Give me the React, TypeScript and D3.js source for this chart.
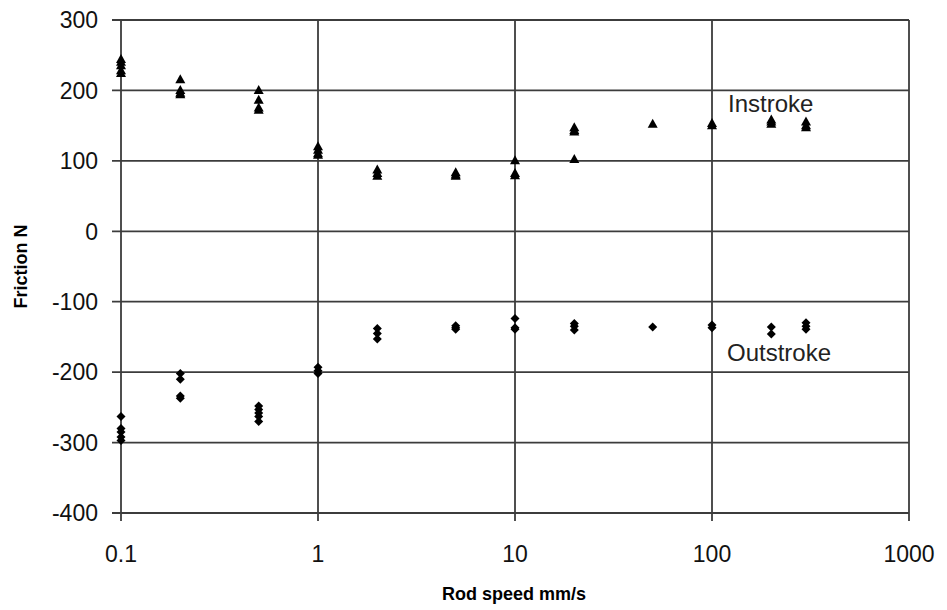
import { useEffect, useRef } from 'react'
import * as d3 from 'd3'

// rod speeds (mm/s) measured
const speeds = [0.1, 0.2, 0.5, 1, 2, 5, 10, 20, 50, 100, 200, 300]

// friction readings (N) per speed
const instroke = [
  [244, 240, 235, 228, 224],
  [215, 200, 196, 194],
  [200, 186, 175, 172],
  [120, 115, 110, 108],
  [87, 82, 78],
  [83, 80, 78],
  [100, 82, 79],
  [147, 143, 141, 102],
  [152],
  [153, 150],
  [158, 155, 152],
  [155, 150, 147],
]

const outstroke = [
  [-263, -280, -285, -292, -297],
  [-202, -210, -234, -237],
  [-248, -253, -258, -263, -270],
  [-193, -198, -202],
  [-138, -145, -153],
  [-134, -137, -139],
  [-124, -137, -139],
  [-131, -135, -140],
  [-136],
  [-133, -137],
  [-136, -146],
  [-130, -135, -139],
]

const xTicks = [0.1, 1, 10, 100, 1000]
const yTicks = [300, 200, 100, 0, -100, -200, -300, -400]

const W = 947
const H = 610
const FONT = '"Liberation Sans", Arial, sans-serif'

function flatten(rows: number[][]) {
  const out: { x: number; y: number }[] = []
  rows.forEach((vals, i) => vals.forEach((v) => out.push({ x: speeds[i], y: v })))
  return out
}

export default function App() {
  const ref = useRef<SVGSVGElement>(null)

  useEffect(() => {
    const svg = d3.select(ref.current)
    svg.selectAll('*').remove()

    const left = 121
    const right = 909
    const top = 20
    const bottom = 513

    const x = d3.scaleLog().domain([0.1, 1000]).range([left, right])
    const y = d3.scaleLinear().domain([-400, 300]).range([bottom, top])

    const grid = svg.append('g').attr('stroke', '#3c3c3c').attr('stroke-width', 1.8)

    grid
      .selectAll('line.h')
      .data(yTicks)
      .enter()
      .append('line')
      .attr('x1', left - 9)
      .attr('x2', right)
      .attr('y1', (d) => y(d))
      .attr('y2', (d) => y(d))

    grid
      .selectAll('line.v')
      .data(xTicks)
      .enter()
      .append('line')
      .attr('x1', (d) => x(d))
      .attr('x2', (d) => x(d))
      .attr('y1', top)
      .attr('y2', bottom + 8)

    svg
      .append('g')
      .selectAll('text')
      .data(yTicks)
      .enter()
      .append('text')
      .attr('x', left - 23)
      .attr('y', (d) => y(d))
      .attr('dy', '0.36em')
      .attr('text-anchor', 'end')
      .attr('font-family', FONT)
      .attr('font-size', 23)
      .attr('fill', '#111')
      .text((d) => d)

    svg
      .append('g')
      .selectAll('text')
      .data(xTicks)
      .enter()
      .append('text')
      .attr('x', (d) => x(d))
      .attr('y', bottom + 49)
      .attr('text-anchor', 'middle')
      .attr('font-family', FONT)
      .attr('font-size', 23)
      .attr('fill', '#111')
      .text((d) => String(d))

    const tri = 'M0,-5.5L5,3.5L-5,3.5Z'
    const dia = 'M0,-4.5L4.5,0L0,4.5L-4.5,0Z'

    svg
      .append('g')
      .selectAll('path')
      .data(flatten(instroke))
      .enter()
      .append('path')
      .attr('d', tri)
      .attr('fill', '#000')
      .attr('transform', (d) => `translate(${x(d.x)},${y(d.y)})`)

    svg
      .append('g')
      .selectAll('path')
      .data(flatten(outstroke))
      .enter()
      .append('path')
      .attr('d', dia)
      .attr('fill', '#000')
      .attr('transform', (d) => `translate(${x(d.x)},${y(d.y)})`)

    svg
      .append('text')
      .attr('x', 728)
      .attr('y', 112)
      .attr('font-family', FONT)
      .attr('font-size', 24)
      .attr('fill', '#222')
      .text('Instroke')

    svg
      .append('text')
      .attr('x', 727)
      .attr('y', 361)
      .attr('font-family', FONT)
      .attr('font-size', 24)
      .attr('fill', '#222')
      .text('Outstroke')

    svg
      .append('text')
      .attr('x', 514)
      .attr('y', 600)
      .attr('text-anchor', 'middle')
      .attr('font-family', FONT)
      .attr('font-size', 18)
      .attr('font-weight', 'bold')
      .text('Rod speed mm/s')

    svg
      .append('text')
      .attr('transform', `translate(27,${(top + bottom) / 2}) rotate(-90)`)
      .attr('text-anchor', 'middle')
      .attr('font-family', FONT)
      .attr('font-size', 18)
      .attr('font-weight', 'bold')
      .text('Friction N')
  }, [])

  return (
    <svg
      ref={ref}
      width={W}
      height={H}
      style={{ position: 'absolute', left: 0, top: 0, background: '#fff' }}
    />
  )
}
